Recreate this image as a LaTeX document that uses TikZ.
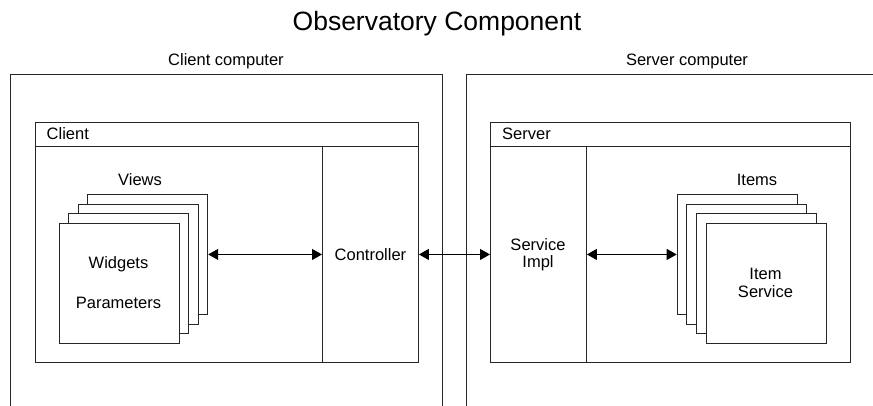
\documentclass[tikz,border=0pt]{standalone}
\usepackage{fontspec}
\setmainfont{Liberation Sans}
\usetikzlibrary{arrows.meta,positioning}
\begin{document}
\begin{tikzpicture}[x=1pt,y=-1pt,
  ln/.style={draw=black!85,line width=0.9pt},
  box/.style={ln,rectangle,inner sep=0pt,fill=white,anchor=north west},
  card/.style={box,minimum width=120pt,minimum height=120pt},
  lbl/.style={font=\fontsize{16.5}{18.5}\selectfont,inner sep=0pt},
  biarrow/.style={black,line width=0.9pt,{Triangle[length=10pt,width=11pt]}-{Triangle[length=10pt,width=11pt]}}
]
\useasboundingbox (0,0) rectangle (873,406);
% title
\node[font=\fontsize{26.5}{30}\selectfont,inner sep=0pt] (title) at (437,24) {Observatory Component};
% computers
\coordinate (cc1) at (10,406); \coordinate (cc2) at (10,74); \coordinate (cc3) at (442.7,74); \coordinate (cc4) at (442.7,406);
\draw[ln] (cc1) -- (cc2) -- (cc3) -- (cc4);
\node[lbl] (cclabel) at (226,61) {Client computer};
\coordinate (sc1) at (466,406); \coordinate (sc2) at (466,74); \coordinate (sc3) at (873,74);
\draw[ln] (sc1) -- (sc2) -- (sc3);
\node[lbl] (sclabel) at (687,61) {Server computer};
% client
\node[box,minimum width=383.3pt,minimum height=239.7pt] (client) at (34.7,122) {};
\coordinate (chl) at (34.7,146); \coordinate (chr) at (418,146);
\draw[ln] (chl) -- (chr);
\node[lbl,anchor=west] (clientlbl) at (46.5,134) {Client};
\node[box,minimum width=96pt,minimum height=215.7pt] (controller) at (322,146) {};
\node[lbl] (ctrltext) at (controller.center) {Controller};
% views
\node[card] (v0) at (87.3,194) {};
\node[card] (v1) at (77.7,203.6) {};
\node[card] (v2) at (68.1,213.2) {};
\node[card] (v3) at (58.5,222.8) {};
\node[lbl] (viewslbl) at (140,179.5) {Views};
\node[lbl] (widgets) at (118.5,264.5) {Widgets};
\node[lbl] (params) at (118.5,302.5) {Parameters};
% server
\node[box,minimum width=359.7pt,minimum height=239.7pt] (server) at (490,122) {};
\coordinate (shl) at (490,146); \coordinate (shr) at (849.7,146);
\draw[ln] (shl) -- (shr);
\node[lbl,anchor=west] (serverlbl) at (502,134) {Server};
\node[box,minimum width=96pt,minimum height=215.7pt] (impl) at (490,146) {};
\node[lbl,align=center] (impltext) at (538,254.5) {Service\\[-1pt]Impl};
% items
\node[card] (i0) at (676.7,194) {};
\node[card] (i1) at (686.3,203.6) {};
\node[card] (i2) at (695.9,213.2) {};
\node[card] (i3) at (705.5,222.8) {};
\node[lbl] (itemslbl) at (757,179.5) {Items};
\node[lbl,align=center] (itemtext) at (765.5,282.8) {Item\\Service};
% arrows
\draw[biarrow] (v0.east) -- (controller.west |- v0.east);
\draw[biarrow] (controller.east |- v0.east) -- (impl.west |- v0.east);
\draw[biarrow] (impl.east |- i0.west) -- (i0.west);
\end{tikzpicture}
\end{document}
